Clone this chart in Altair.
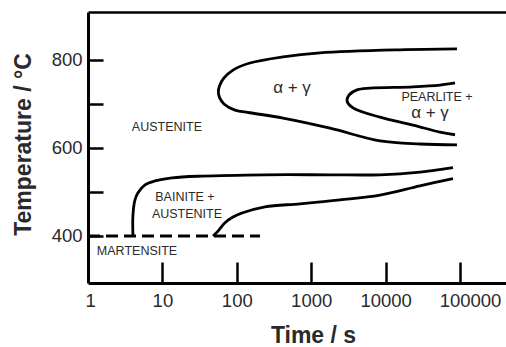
import altair as alt
import pandas as pd

# ---- data (time in s, temperature in °C) ----
ferrite_t = [91200, 15600, 1313, 418, 150, 88.9, 67.3, 58.5, 56.5, 58.5, 67.3, 94.6, 150, 418, 1790, 8410, 29000, 91200]
ferrite_T = [825, 823, 816, 807, 793, 777, 759, 741, 728, 715, 700, 686, 680, 668, 645, 616, 609, 607]

pearlite_t = [85700, 53800, 23400, 6170, 4130, 3220, 3030, 3650, 8410, 23400, 53800, 85700]
pearlite_T = [748, 743, 739, 736, 732, 720, 707, 691, 670, 652, 636, 630]

bainite_start_t = [4.02, 4.02, 4.28, 4.70, 5.84, 7.95, 13.5, 34, 239, 1790, 8410, 29000, 80500]
bainite_start_T = [400, 448, 482, 498, 516, 525, 532, 536, 539, 539, 539, 545, 555]

bainite_end_t = [47.9, 55.9, 69.4, 88.9, 117.5, 239, 707, 2440, 8410, 29000, 80500]
bainite_end_T = [400, 411, 430, 443, 452, 466, 473, 482, 493, 514, 530]

ms_t = [1, 205]
ms_T = [400, 400]

x_label_values = [1, 10, 100, 1000, 10000, 100000]
x_tick_values = [10, 100, 1000, 10000, 100000]
y_label_values = [400, 600, 800]
y_tick_values = [400, 500, 600, 700, 800]

phase_labels = ["AUSTENITE", "PEARLITE +", "BAINITE +", "AUSTENITE", "MARTENSITE"]
phase_t = [11.5, 49100, 20.1, 21.4, 4.56]
phase_T = [648, 716, 489, 450, 366]

greek_labels = ["α + γ", "α + γ"]
greek_t = [552, 39500]
greek_T = [736, 679]

# ---- build tables ----
rows = []
for name, ts, Ts in [("ferrite", ferrite_t, ferrite_T), ("pearlite", pearlite_t, pearlite_T),
                     ("bs", bainite_start_t, bainite_start_T), ("bf", bainite_end_t, bainite_end_T)]:
    for i, (t, T) in enumerate(zip(ts, Ts)):
        rows.append({"curve": name, "i": i, "t": t, "T": T})
curves = pd.DataFrame(rows)
ms = pd.DataFrame({"t": ms_t, "T": ms_T})
phases = pd.DataFrame({"label": phase_labels, "t": phase_t, "T": phase_T})
greek = pd.DataFrame({"label": greek_labels, "t": greek_t, "T": greek_T})

W, H = 418, 271
xscale = alt.Scale(type="log", domain=[1, 415300], nice=False)
yscale = alt.Scale(domain=[293, 909], nice=False, zero=False)
FONT = "Liberation Sans"
INK = "#2a2a2a"

x_main = alt.Axis(orient="bottom", values=x_label_values, format="d", ticks=False, tickSize=0,
                  labelPadding=8, labelFontSize=18.5, labelFont=FONT, labelColor=INK,
                  labelOffset={"condition": [{"test": "datum.value == 100000", "value": 10},
                                             {"test": "datum.value == 1", "value": -3}],
                               "value": 0},
                  domainColor="black", domainWidth=3, grid=False,
                  title="Time /  s", titleFont=FONT, titleFontSize=23, titleFontWeight="bold",
                  titleColor=INK, titleX=225, titleY=59, titleBaseline="alphabetic", titleAlign="center")
y_main = alt.Axis(orient="left", values=y_label_values, ticks=False, tickSize=0, labelPadding=6,
                  labelFontSize=18.5, labelFont=FONT, labelColor=INK, domainColor="black",
                  domainWidth=3, grid=False,
                  title="Temperature / °C", titleFont=FONT, titleFontSize=23, titleFontWeight="bold",
                  titleColor=INK, titleAngle=270, titleX=-58, titleY=132,
                  titleBaseline="alphabetic", titleAlign="center")

lines = alt.Chart(curves).mark_line(color="black", strokeWidth=2.8, interpolate="catmull-rom").encode(
    x=alt.X("t:Q", scale=xscale, axis=x_main),
    y=alt.Y("T:Q", scale=yscale, axis=y_main),
    detail="curve:N",
    order="i:Q",
)

x_ticks = alt.Axis(orient="top", offset=-H, values=x_tick_values, labels=False, domain=False,
                   ticks=True, tickSize=21, tickWidth=2.5, tickColor="black", grid=False, title=None)
y_ticks = alt.Axis(orient="right", offset=-W, values=y_tick_values, labels=False, domain=False,
                   ticks=True, tickSize=15, tickWidth=2.5, tickColor="black", grid=False, title=None)

dashed = alt.Chart(ms).mark_line(color="black", strokeWidth=3, strokeDash=[12, 6]).encode(
    x=alt.X("t:Q", scale=xscale, axis=x_ticks),
    y=alt.Y("T:Q", scale=yscale, axis=y_ticks),
)

x_frame = alt.Axis(orient="top", labels=False, ticks=False, domain=True, domainColor="black",
                   domainWidth=2.5, grid=False, title=None)

phase_text = alt.Chart(phases).mark_text(font=FONT, fontSize=12.5, color=INK, align="center",
                                          baseline="middle").encode(
    x=alt.X("t:Q", scale=xscale, axis=x_frame),
    y=alt.Y("T:Q", scale=yscale, axis=None),
    text="label:N",
)

greek_text = alt.Chart(greek).mark_text(font=FONT, fontSize=17, color=INK, align="center",
                                         baseline="middle").encode(
    x=alt.X("t:Q", scale=xscale, axis=None),
    y=alt.Y("T:Q", scale=yscale, axis=None),
    text="label:N",
)

chart = alt.layer(lines, dashed, phase_text, greek_text).resolve_axis(
    x="independent", y="independent"
).properties(
    width=W, height=H,
    autosize=alt.AutoSizeParams(type="none"),
    padding={"left": 88, "top": 12, "right": 0, "bottom": 64},
    background="white",
).configure_view(strokeWidth=0)

chart.save("out.html", embed_options={"renderer": "svg", "actions": False})
